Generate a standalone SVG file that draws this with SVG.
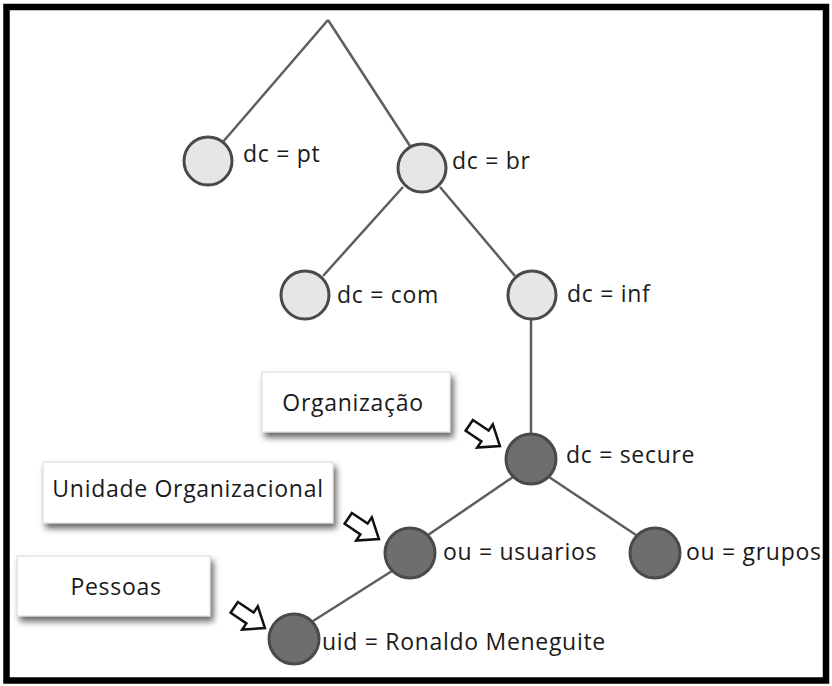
<svg xmlns="http://www.w3.org/2000/svg" width="832" height="686" viewBox="0 0 832 686">
<defs>
<style>
.lbl{font-family:"Open Sans","Liberation Sans",sans-serif;font-size:23px;letter-spacing:0.7px;fill:#1a1a1a}
.lt{fill:#e6e6e6;stroke:#4a4a4a;stroke-width:3}
.dk{fill:#6e6e6e;stroke:#4a4a4a;stroke-width:3}
.box{fill:#fff;stroke:#d8d8d8;stroke-width:1}
.edge{stroke:#5e5e5e;stroke-width:2.5;fill:none}
.arr{fill:#fff;stroke:#111;stroke-width:2.5;stroke-linejoin:miter}
</style>
<filter id="sh" x="-10%" y="-20%" width="130%" height="160%">
<feDropShadow dx="3" dy="5" stdDeviation="3" flood-color="#000" flood-opacity="0.6"/>
</filter>
<path id="ar" d="M-19,-6.5 L0,-6.5 L0,-14 L18,0 L0,14 L0,6.5 L-19,6.5 Z"/>
</defs>
<rect x="0" y="0" width="832" height="686" fill="#fff"/>
<rect x="6.5" y="7" width="819.5" height="673.5" fill="none" stroke="#000" stroke-width="6.5"/>
<g id="connectors">
<line class="edge" x1="328" y1="20" x2="222" y2="143"/>
<line class="edge" x1="328" y1="20" x2="410" y2="146"/>
<line class="edge" x1="403" y1="187" x2="323" y2="276"/>
<line class="edge" x1="440" y1="187" x2="515" y2="276"/>
<line class="edge" x1="531" y1="320" x2="531" y2="433"/>
<line class="edge" x1="513" y1="477" x2="428" y2="535"/>
<line class="edge" x1="549" y1="477" x2="636" y2="535"/>
<line class="edge" x1="392" y1="571" x2="313" y2="621"/>
</g>
<g id="node-pt"><circle class="lt" cx="208" cy="161" r="24"/><text class="lbl" x="243" y="162">dc = pt</text></g>
<g id="node-br"><circle class="lt" cx="422" cy="168" r="24"/><text class="lbl" x="452" y="169">dc = br</text></g>
<g id="node-com"><circle class="lt" cx="305" cy="295" r="24"/><text class="lbl" x="337" y="303">dc = com</text></g>
<g id="node-inf"><circle class="lt" cx="532" cy="295" r="24"/><text class="lbl" x="567" y="302">dc = inf</text></g>
<g id="node-secure"><circle class="dk" cx="531" cy="459" r="25"/><text class="lbl" x="566" y="463">dc = secure</text></g>
<g id="node-usuarios"><circle class="dk" cx="410" cy="553" r="25"/><text class="lbl" x="443" y="560">ou = usuarios</text></g>
<g id="node-grupos"><circle class="dk" cx="655" cy="553" r="25"/><text class="lbl" x="686" y="560">ou = grupos</text></g>
<g id="node-uid"><circle class="dk" cx="294" cy="639" r="25"/><text class="lbl" x="322" y="650">uid = Ronaldo Meneguite</text></g>
<g id="box-organizacao"><rect class="box" x="262" y="372" width="188" height="60" filter="url(#sh)"/><text class="lbl" x="353" y="411" text-anchor="middle">Organização</text><use href="#ar" class="arr" transform="translate(485,436) rotate(34)"/></g>
<g id="box-unidade"><rect class="box" x="43" y="462" width="290" height="61" filter="url(#sh)"/><text class="lbl" x="188" y="497" text-anchor="middle">Unidade Organizacional</text><use href="#ar" class="arr" transform="translate(364,529) rotate(34)"/></g>
<g id="box-pessoas"><rect class="box" x="17" y="556" width="193" height="60" filter="url(#sh)"/><text class="lbl" x="116" y="595" text-anchor="middle">Pessoas</text><use href="#ar" class="arr" transform="translate(250,618) rotate(34)"/></g>
</svg>
